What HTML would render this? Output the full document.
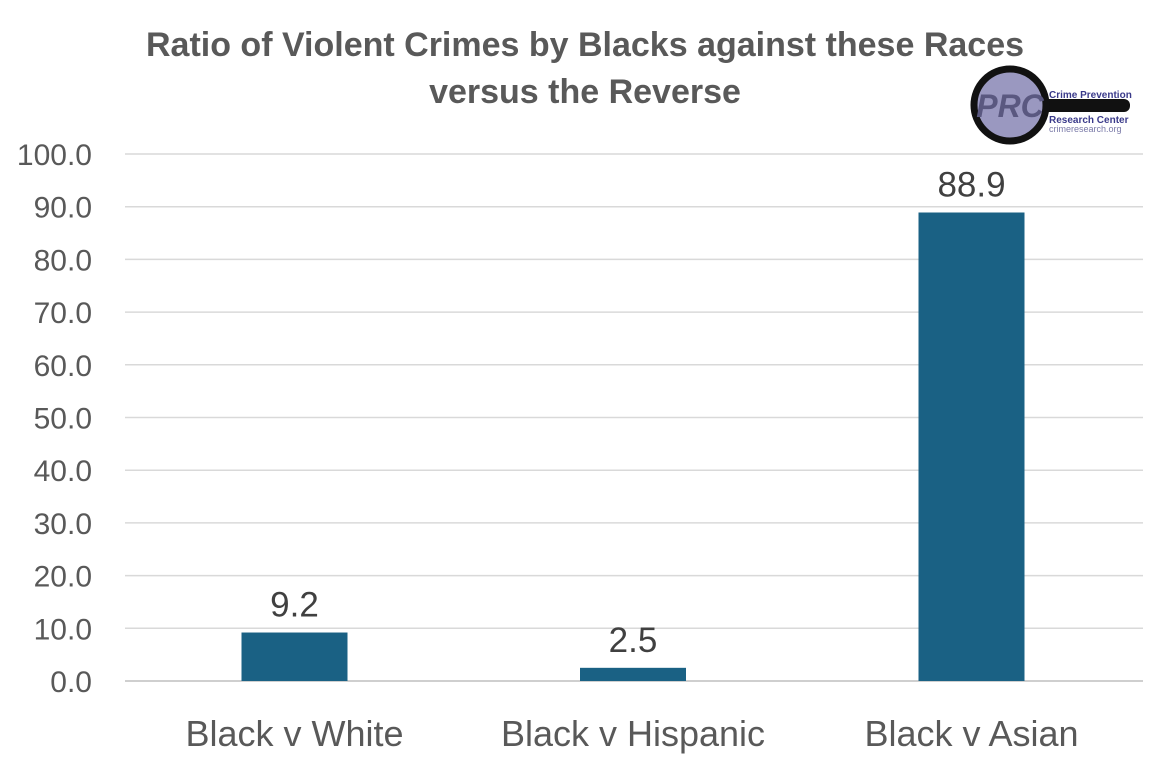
<!DOCTYPE html>
<html><head><meta charset="utf-8"><style>
body{margin:0;background:#fff;font-family:"Liberation Sans",sans-serif}
</style></head><body>
<svg width="1170" height="768" xmlns="http://www.w3.org/2000/svg">
<text x="585" y="56" text-anchor="middle" font-size="34" font-weight="bold" fill="#595959">Ratio of Violent Crimes by Blacks against these Races</text>
<text x="585" y="103" text-anchor="middle" font-size="34" font-weight="bold" fill="#595959">versus the Reverse</text>
<g>
<rect x="1040" y="99" width="90" height="13" rx="6" fill="#111"/>
<circle cx="1010" cy="105" r="36" fill="#9a98c0" stroke="#111" stroke-width="7"/>
<text x="1010" y="117" text-anchor="middle" font-size="32" font-weight="bold" fill="#5a5880" font-style="italic">PRC</text>
<text x="1049" y="98" font-size="10" font-weight="bold" fill="#3a3a8a">Crime Prevention</text>
<text x="1049" y="123" font-size="10" font-weight="bold" fill="#3a3a8a">Research Center</text>
<text x="1049" y="132" font-size="9" fill="#7a7aa8">crimeresearch.org</text>
</g>
<g id="grid"></g><g id="bars"></g><g id="labels"></g>
</svg>
<script>
const categories=["Black v White","Black v Hispanic","Black v Asian"];
const values=[9.2,2.5,88.9];
const ticks=[0,10,20,30,40,50,60,70,80,90,100];
const ns="http://www.w3.org/2000/svg";
const y=v=>681-v*5.27;
const grid=document.getElementById('grid'),bars=document.getElementById('bars'),labels=document.getElementById('labels');
function mk(tag,attrs,parent,txt){const e=document.createElementNS(ns,tag);for(const k in attrs)e.setAttribute(k,attrs[k]);if(txt!==undefined)e.textContent=txt;parent.appendChild(e);return e;}
ticks.forEach(t=>{
 const l=mk('line',{x1:125,x2:1143,y1:y(t),y2:y(t),stroke:t===0?'#bfbfbf':'#d9d9d9','stroke-width':1.5},grid);
 
 
 const tx=mk('text',{x:92,y:y(t)+11,'text-anchor':'end','font-size':30,fill:'#595959'},grid,t.toFixed(1));
 
 
});
categories.forEach((c,i)=>{
 const mid=294.5+i*338.5;
 const r=mk('rect',{x:mid-53,y:y(values[i]),width:106,height:681-y(values[i]),fill:'#1a6184'},bars);
 
 
 const v=mk('text',{x:mid,y:y(values[i])-16,'text-anchor':'middle','font-size':35,fill:'#404040'},labels,values[i].toFixed(1));
 
 
 const cl=mk('text',{x:mid,y:746,'text-anchor':'middle','font-size':36,fill:'#595959'},labels,c);
 
 
});
</script>
</body></html>
